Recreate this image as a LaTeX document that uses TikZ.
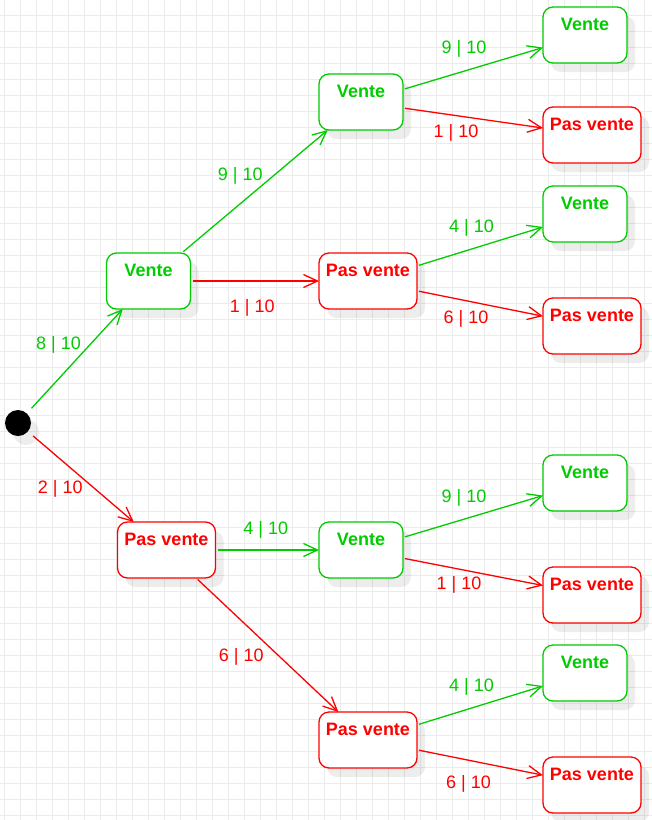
\documentclass[tikz,border=0pt]{standalone}
\usepackage{fontspec}
\setmainfont{Liberation Sans}
\usetikzlibrary{arrows.meta,positioning,shadows}
\definecolor{vgreen}{RGB}{0,204,0}
\definecolor{vred}{RGB}{255,0,0}
\definecolor{gridgray}{RGB}{235,235,235}

\begin{document}
\begin{tikzpicture}[on grid,
    etat/.style={rectangle, rounded corners=10pt, fill=white, line width=1.3pt,
      text height=23pt, text depth=33pt, inner ysep=0pt, outer sep=0pt,
      font=\bfseries\fontsize{18}{20}\selectfont,
      drop shadow={shadow xshift=8pt, shadow yshift=-9pt, fill=black, opacity=0.07}},
    vente/.style={etat, draw=vgreen, text=vgreen, minimum width=84pt},
    pasvente/.style={etat, draw=vred, text=vred, minimum width=98pt},
    depart/.style={circle, fill=black, minimum size=26pt, inner sep=0pt, outer sep=5pt,
      drop shadow={shadow xshift=8pt, shadow yshift=-9pt, fill=black, opacity=0.07}}]
  \fill[white] (0,0) rectangle (652pt,-820pt);
  \useasboundingbox (0,0) rectangle (652pt,-820pt);
  \begin{scope}
    \clip (0,0) rectangle (652pt,-820pt);
    \draw[gridgray, line width=1pt, step=16pt, xshift=4pt, yshift=1pt] (-20pt,-840pt) grid (660pt,10pt);
  \end{scope}
  \node (S) [depart] at (18pt,-423pt) {};
  \node (V1) [vente, above right=142pt and 130.5pt of S] {Vente};
  \node (P1) [pasvente, below right=127pt and 148.5pt of S] {Pas vente};
  \node (V2a) [vente, above right=179pt and 212.5pt of V1] {Vente};
  \node (P2a) [pasvente, right=219.5pt of V1] {Pas vente};
  \node (V2b) [vente, right=194.5pt of P1] {Vente};
  \node (P2b) [pasvente, below right=190pt and 201.5pt of P1] {Pas vente};
  \node (V3a) [vente, above right=67pt and 224pt of V2a] {Vente};
  \node (P3a) [pasvente, below right=33pt and 231pt of V2a] {Pas vente};
  \node (V3b) [vente, above right=67pt and 217pt of P2a] {Vente};
  \node (P3b) [pasvente, below right=45pt and 224pt of P2a] {Pas vente};
  \node (V3c) [vente, above right=67pt and 224pt of V2b] {Vente};
  \node (P3c) [pasvente, below right=45pt and 231pt of V2b] {Pas vente};
  \node (V3d) [vente, above right=67pt and 217pt of P2b] {Vente};
  \node (P3d) [pasvente, below right=45pt and 224pt of P2b] {Pas vente};
  \begin{scope}
    [every edge/.style={draw, line width=1.3pt, shorten <=2pt,
      -{Straight Barb[length=14pt,width=13pt]}},
    every node/.style={font=\fontsize{18}{20}\selectfont}]
    \path (S) edge[vgreen] node[xshift=-18pt, yshift=14pt] {8 | 10} (V1);
    \path (S) edge[vred] node[xshift=-22.5pt, yshift=-11pt] {2 | 10} (P1);
    \path (V1) edge[vgreen] node[xshift=-14.5pt, yshift=16pt] {9 | 10} (V2a);
    \path (V1) edge[vred] node[xshift=-2.5pt, yshift=-26.5pt] {1 | 10} (P2a);
    \path (P1) edge[vgreen] node[xshift=-1.5pt, yshift=20pt] {4 | 10} (V2b);
    \path (P1) edge[vred] node[xshift=-26pt, yshift=-12pt] {6 | 10} (P2b);
    \path (V2a) edge[vgreen] node[xshift=-9pt, yshift=19.5pt] {9 | 10} (V3a);
    \path (V2a) edge[vred] node[xshift=-17pt, yshift=-14.5pt] {1 | 10} (P3a);
    \path (P2a) edge[vgreen] node[xshift=-8.5pt, yshift=19pt] {4 | 10} (V3b);
    \path (P2a) edge[vred] node[xshift=-14pt, yshift=-15pt] {6 | 10} (P3b);
    \path (V2b) edge[vgreen] node[xshift=-9pt, yshift=19pt] {9 | 10} (V3c);
    \path (V2b) edge[vred] node[xshift=-14pt, yshift=-13.5pt] {1 | 10} (P3c);
    \path (P2b) edge[vgreen] node[xshift=-8.5pt, yshift=19pt] {4 | 10} (V3d);
    \path (P2b) edge[vred] node[xshift=-11.5pt, yshift=-21.5pt] {6 | 10} (P3d);
  \end{scope}
\end{tikzpicture}
\end{document}
